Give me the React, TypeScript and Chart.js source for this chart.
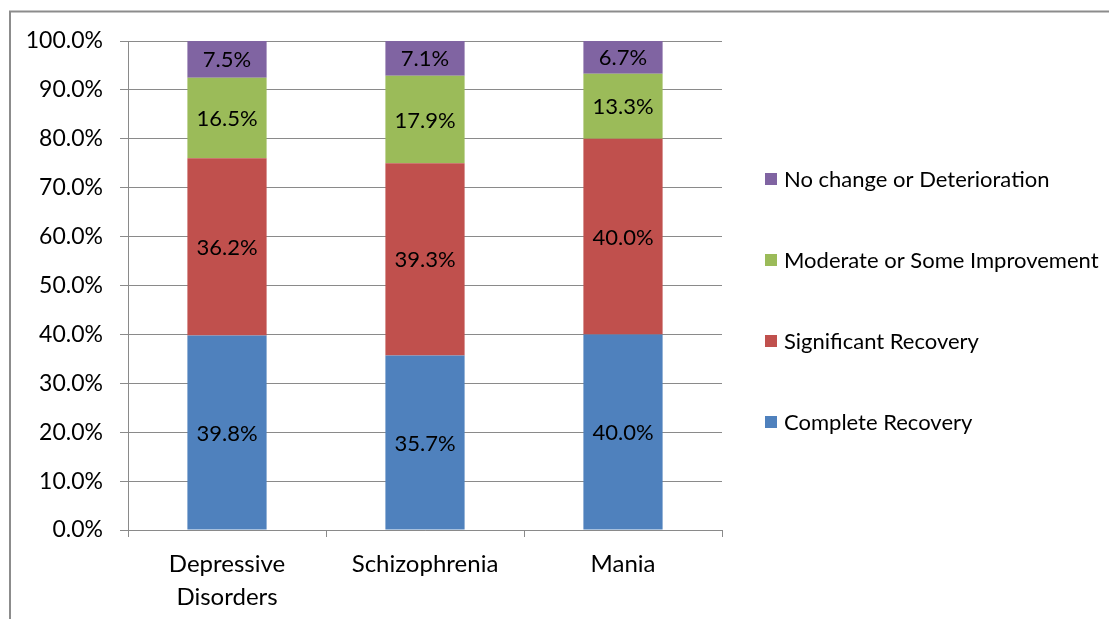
import React, { useEffect, useRef } from "react";
import { Chart, registerables } from "chart.js";

Chart.register(...registerables);

const categories: (string | string[])[] = [["Depressive", "Disorders"], "Schizophrenia", "Mania"];
const seriesNames = ["Complete Recovery", "Significant Recovery", "Moderate or Some Improvement", "No change or Deterioration"];
const completeRecovery = [39.8, 35.7, 40.0];
const significantRecovery = [36.2, 39.3, 40.0];
const moderateImprovement = [16.5, 17.9, 13.3];
const noChange = [7.5, 7.1, 6.7];
const seriesColors = ["#4F81BD", "#C0504D", "#9BBB59", "#8064A2"];

const FONT = "Lato, 'Open Sans', sans-serif";
const GRID = "#8a8a8a";

const valueLabels = {
  id: "valueLabels",
  afterDatasetsDraw(chart: any) {
    const ctx = chart.ctx;
    ctx.save();
    ctx.font = `22px ${FONT}`;
    ctx.fillStyle = "#000";
    ctx.textAlign = "center";
    ctx.textBaseline = "middle";
    chart.data.datasets.forEach((ds: any, di: number) => {
      const meta = chart.getDatasetMeta(di);
      meta.data.forEach((el: any, i: number) => {
        const v = ds.data[i];
        const y = (el.y + el.base) / 2;
        ctx.fillText(v.toFixed(1) + "%", el.x, y + 1);
      });
    });
    ctx.restore();
  },
};

const frameAndLegend = {
  id: "frameAndLegend",
  beforeDraw(chart: any) {
    const ctx = chart.ctx;
    ctx.save();
    ctx.fillStyle = "#fff";
    ctx.fillRect(0, 0, chart.width, chart.height);
    ctx.strokeStyle = "#8c8c8c";
    ctx.lineWidth = 2;
    ctx.strokeRect(10, 11.5, chart.width + 20, chart.height + 20);
    ctx.restore();
  },
  afterDraw(chart: any) {
    const ctx = chart.ctx;
    ctx.save();
    ctx.font = `22px ${FONT}`;
    ctx.textAlign = "left";
    ctx.textBaseline = "middle";
    const ys = [422, 341, 260, 179];
    seriesNames.forEach((name, i) => {
      const y = ys[i];
      ctx.fillStyle = seriesColors[i];
      ctx.fillRect(765, y - 6, 12, 12);
      ctx.fillStyle = "#000";
      ctx.fillText(name, 784, y + 1);
    });
    ctx.restore();
  },
};

export default function App() {
  const ref = useRef<HTMLCanvasElement>(null);
  useEffect(() => {
    if (!ref.current) return;
    const data = [completeRecovery, significantRecovery, moderateImprovement, noChange];
    const chart = new Chart(ref.current, {
      type: "bar",
      data: {
        labels: categories,
        datasets: seriesNames.map((name, i) => ({
          label: name,
          data: data[i],
          backgroundColor: seriesColors[i],
          borderWidth: 0,
          barPercentage: 0.8,
          categoryPercentage: 0.5,
        })),
      },
      options: {
        responsive: false,
        animation: false,
        layout: { padding: { top: 41, right: 387, left: 0, bottom: 0 } },
        plugins: { legend: { display: false }, tooltip: { enabled: false } },
        scales: {
          x: {
            stacked: true,
            afterFit: (s: any) => { s.height = 89; },
            grid: { drawOnChartArea: false, drawTicks: true, tickLength: 7, offset: true, color: GRID },
            border: { color: GRID, width: 1 },
            ticks: { color: "#000", font: { family: FONT, size: 24, lineHeight: 1.4 }, padding: 10, maxRotation: 0 },
          },
          y: {
            stacked: true,
            min: 0,
            max: 100,
            afterFit: (s: any) => { s.width = 128; },
            grid: { color: GRID, drawTicks: true, tickLength: 8 },
            border: { color: GRID, width: 1 },
            ticks: {
              stepSize: 10,
              color: "#000",
              padding: 17,
              font: { family: FONT, size: 23 },
              callback: (v: any) => Number(v).toFixed(1) + "%",
            },
          },
        },
      },
      plugins: [valueLabels, frameAndLegend],
    });
    return () => chart.destroy();
  }, []);
  return (
    <div style={{ position: "absolute", left: 0, top: 0, width: 1109, height: 619, overflow: "hidden" }}>
      <canvas ref={ref} width={1109} height={619} style={{ display: "block" }} />
    </div>
  );
}
